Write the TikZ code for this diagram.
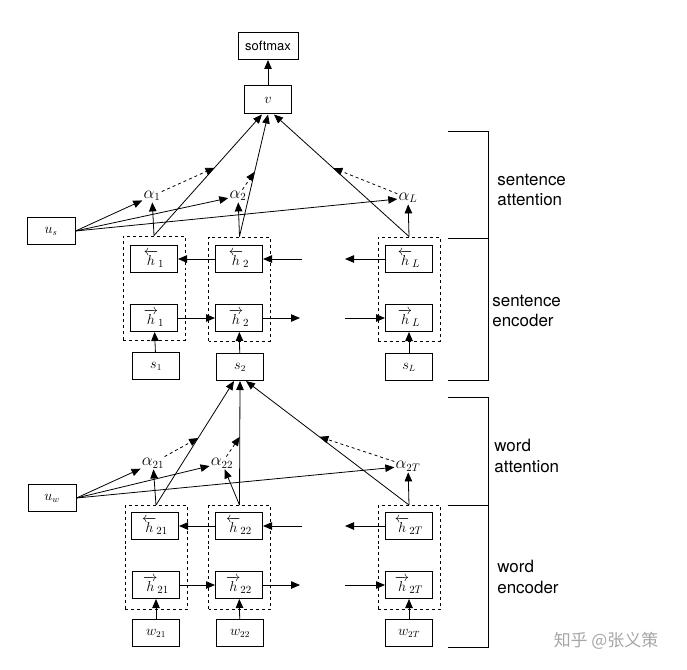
\documentclass[tikz,border=0pt]{standalone}
\usepackage{amsmath}
\usepackage{fontspec}
\setsansfont{TeX Gyre Heros}
\newfontfamily\cjkfont{Noto Sans CJK SC}
\usetikzlibrary{arrows.meta, positioning, calc}

\begin{document}
\begin{tikzpicture}[
  x=1bp, y=-1bp, line width=0.8bp,
  cell/.style={draw, line width=1bp, minimum width=47bp, minimum height=27bp,
               inner sep=0pt, font=\fontsize{15}{17}\selectfont},
  inbox/.style={cell, font=\fontsize{13.5}{15}\selectfont},
  group/.style={draw, dashed, line width=1bp, minimum width=62bp,
                minimum height=104bp, inner sep=0pt},
  weight/.style={inner sep=1bp, font=\fontsize{16}{18}\selectfont},
  arrow/.style={-{Triangle[length=9bp, width=7.5bp]}},
  attn/.style={arrow, dashed},
  side/.style={anchor=west, align=left, inner sep=0pt,
               font=\sffamily\fontsize{17}{20.5}\selectfont},
]
\useasboundingbox (0,0) rectangle (687,670);

% sentence level
\node[cell, minimum width=60bp, font=\sffamily\fontsize{13}{15}\selectfont] (softmax) at (268,46) {softmax};
\node[cell, minimum height=28bp] (v) at (268,100) {$v$};

\node[group] (g1) at (154,288) {};
\node[group] (g2) at (239.5,289) {};
\node[group] (gL) at (409,289) {};
\node[cell]  (hb1) at (154,259) {$\overleftarrow{h}_1$};
\node[cell]  (hf1) at (154,318) {$\overrightarrow{h}_1$};
\node[inbox] (s1)  at (156,366) {$s_1$};
\node[cell]  (hb2) at (239,259) {$\overleftarrow{h}_2$};
\node[cell]  (hf2) at (239,318) {$\overrightarrow{h}_2$};
\node[inbox] (s2)  at (240,367) {$s_2$};
\node[cell]  (hbL) at (409,259) {$\overleftarrow{h}_L$};
\node[cell]  (hfL) at (409,318) {$\overrightarrow{h}_L$};
\node[inbox] (sL)  at (409,367) {$s_L$};

\node[inbox, minimum width=48bp] (us) at (51,231) {$u_s$};
\node[weight] (a1) at (152,196) {$\alpha_1$};
\node[weight] (a2) at (238,196) {$\alpha_2$};
\node[weight] (aL) at (408,198) {$\alpha_L$};

\coordinate (hbin) at (302,259);
\coordinate (hbout) at (345,259);
\coordinate (hfout) at (300,318);
\coordinate (hfin) at (345,318);

\draw[arrow] (v) -- (softmax);
\draw[arrow] (s1) -- (hf1);
\draw[arrow] (s2) -- (hf2);
\draw[arrow] (sL) -- (hfL);
\draw[arrow] (hf1) -- (hf2);
\draw[arrow] (hf2) -- (hfout);
\draw[arrow] (hfin) -- (hfL);
\draw[arrow] (hb2) -- (hb1);
\draw[arrow] (hbin) -- (hb2);
\draw[arrow] (hbL) -- (hbout);

\draw[arrow] (g1.north) -- (a1);
\draw[arrow] (g2.north) -- (a2);
\draw[arrow] (gL.north) -- (aL);
\draw[arrow] (g1.north) -- ([xshift=-6bp]v.south);
\draw[arrow] (g2.north) -- (v.south);
\draw[arrow] (gL.north) -- ([xshift=6bp]v.south);
\draw[attn] (a1) -- ($(g1.north)!0.56!([xshift=-6bp]v.south)$);
\draw[attn] (a2) -- ($(g2.north)!0.53!(v.south)$);
\draw[attn] (aL) -- ($(gL.north)!0.56!([xshift=6bp]v.south)$);
\draw[arrow] (us.east) -- (a1);
\draw[arrow] (us.east) -- (a2);
\draw[arrow] (us.east) -- (aL);

% word level
\node[group] (g21) at (156,557.5) {};
\node[group] (g22) at (239.5,557.5) {};
\node[group] (g2T) at (409,557.5) {};
\node[cell]  (hb21) at (155,526) {$\overleftarrow{h}_{21}$};
\node[cell]  (hf21) at (156,585) {$\overrightarrow{h}_{21}$};
\node[inbox] (w21)  at (156,633) {$w_{21}$};
\node[cell]  (hb22) at (239,526) {$\overleftarrow{h}_{22}$};
\node[cell]  (hf22) at (239,585) {$\overrightarrow{h}_{22}$};
\node[inbox] (w22)  at (240,633) {$w_{22}$};
\node[cell]  (hb2T) at (409,526) {$\overleftarrow{h}_{2T}$};
\node[cell]  (hf2T) at (409,585) {$\overrightarrow{h}_{2T}$};
\node[inbox] (w2T)  at (409,633) {$w_{2T}$};

\node[inbox, minimum width=48bp] (uw) at (52,498) {$u_w$};
\node[weight] (a21) at (153,463) {$\alpha_{21}$};
\node[weight] (a22) at (222,463) {$\alpha_{22}$};
\node[weight] (a2T) at (408,466) {$\alpha_{2T}$};

\coordinate (wbin) at (302,526);
\coordinate (wbout) at (345,526);
\coordinate (wfout) at (300,585);
\coordinate (wfin) at (345,585);

\draw[arrow] (w21) -- (hf21);
\draw[arrow] (w22) -- (hf22);
\draw[arrow] (w2T) -- (hf2T);
\draw[arrow] (hf21) -- (hf22);
\draw[arrow] (hf22) -- (wfout);
\draw[arrow] (wfin) -- (hf2T);
\draw[arrow] (hb22) -- (hb21);
\draw[arrow] (wbin) -- (hb22);
\draw[arrow] (hb2T) -- (wbout);

\draw[arrow] (g21.north) -- (a21);
\draw[arrow] (g22.north) -- (a22);
\draw[arrow] (g2T.north) -- (a2T);
\draw[arrow] (g21.north) -- ([xshift=-6bp]s2.south);
\draw[arrow] (g22.north) -- (s2.south);
\draw[arrow] (g2T.north) -- ([xshift=6bp]s2.south);
\draw[attn] (a21) -- ($(g21.north)!0.54!([xshift=-6bp]s2.south)$);
\draw[attn] (a22) -- ($(g22.north)!0.55!(s2.south)$);
\draw[attn] (a2T) -- ($(g2T.north)!0.55!([xshift=6bp]s2.south)$);
\draw[arrow] (uw.east) -- (a21);
\draw[arrow] (uw.east) -- (a22);
\draw[arrow] (uw.east) -- (a2T);

% brackets and labels
\draw (448,131) -- (488,131) -- (488,238) -- (448,238);
\draw (448,238) -- (488,238) -- (488,380) -- (448,380);
\draw (448,397) -- (488,397) -- (488,505) -- (448,505);
\draw (448,505) -- (488,505) -- (488,647) -- (448,647);
\node[side] (sattn) at (497,190) {sentence\\attention};
\node[side] (senc)  at (492,311) {sentence\\encoder};
\node[side] (wattn) at (494,456) {word\\attention};
\node[side] (wenc)  at (497,577) {word\\encoder};
\node[text=black!35, font=\cjkfont\fontsize{17}{20}\selectfont] (mark) at (606,641) {知乎 @张义策};
\end{tikzpicture}
\end{document}
